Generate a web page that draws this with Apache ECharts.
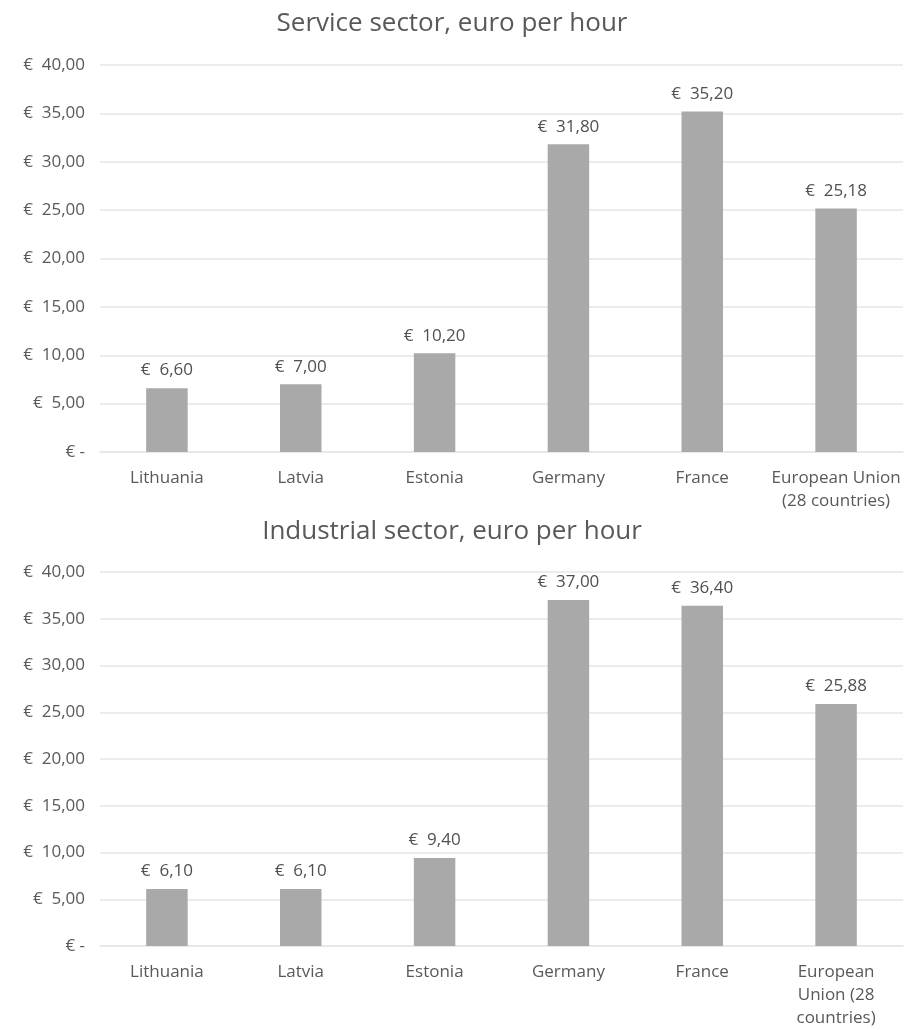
<!DOCTYPE html>
<html>
<head>
<meta charset="utf-8">
<script src="https://cdn.jsdelivr.net/npm/echarts@6/dist/echarts.min.js"></script>
<style>
  html, body { margin: 0; padding: 0; background: #fff; }
  #chart { width: 904px; height: 1030px; }
</style>
</head>
<body>
<div id="chart"></div>
<script>
// Hourly labour cost by country, euro per hour
const serviceCategories = ['Lithuania', 'Latvia', 'Estonia', 'Germany', 'France', 'European Union\n(28 countries)'];
const industryCategories = ['Lithuania', 'Latvia', 'Estonia', 'Germany', 'France', 'European\nUnion (28\ncountries)'];
const serviceValues = [6.60, 7.00, 10.20, 31.80, 35.20, 25.18];
const industryValues = [6.10, 6.10, 9.40, 37.00, 36.40, 25.88];
const titles = ['Service sector, euro per hour', 'Industrial sector, euro per hour'];

const FONT = '"Open Sans", sans-serif';
const TEXT = '#595959';

// Accounting style: euro sign, padded gap, comma decimals, dash for zero
function euro(v) {
  if (v === 0) return '€ -';
  return '€  ' + v.toFixed(2).replace('.', ',');
}

const chart = echarts.init(document.getElementById('chart'), null, { renderer: 'canvas' });

function yAxis(gridIndex) {
  return {
    type: 'value', gridIndex: gridIndex, min: 0, max: 40, interval: 5,
    axisLine: { show: false }, axisTick: { show: false },
    splitLine: { lineStyle: { color: '#e6e6e6', width: 1.5 } },
    axisLabel: { formatter: euro, color: TEXT, fontSize: 17, fontFamily: FONT, margin: 15 }
  };
}

function xAxis(gridIndex, data) {
  return {
    type: 'category', gridIndex: gridIndex, data: data,
    axisLine: { show: true, lineStyle: { color: '#e6e6e6', width: 1.5 } },
    axisTick: { show: false },
    axisLabel: { color: TEXT, fontSize: 17, fontFamily: FONT, margin: 15, lineHeight: 23, interval: 0 }
  };
}

function barSeries(idx, values) {
  return {
    type: 'bar', xAxisIndex: idx, yAxisIndex: idx, data: values,
    barWidth: '31%',
    itemStyle: { color: '#a9a9a9' },
    label: {
      show: true, position: 'top', distance: 9,
      formatter: p => euro(p.value),
      color: '#505050', fontSize: 17, fontFamily: FONT
    }
  };
}

chart.setOption({
  animation: false,
  backgroundColor: '#ffffff',
  title: [
    { text: titles[0], left: 'center', top: 6, textStyle: { color: TEXT, fontSize: 26, fontWeight: 'normal', fontFamily: FONT } },
    { text: titles[1], left: 'center', top: 514, textStyle: { color: TEXT, fontSize: 26, fontWeight: 'normal', fontFamily: FONT } }
  ],
  grid: [
    { left: 100, right: 1, top: 65, height: 387 },
    { left: 100, right: 1, top: 572, height: 376 }
  ],
  xAxis: [xAxis(0, serviceCategories), xAxis(1, industryCategories)],
  yAxis: [yAxis(0), yAxis(1)],
  series: [barSeries(0, serviceValues), barSeries(1, industryValues)]
});
</script>
</body>
</html>
